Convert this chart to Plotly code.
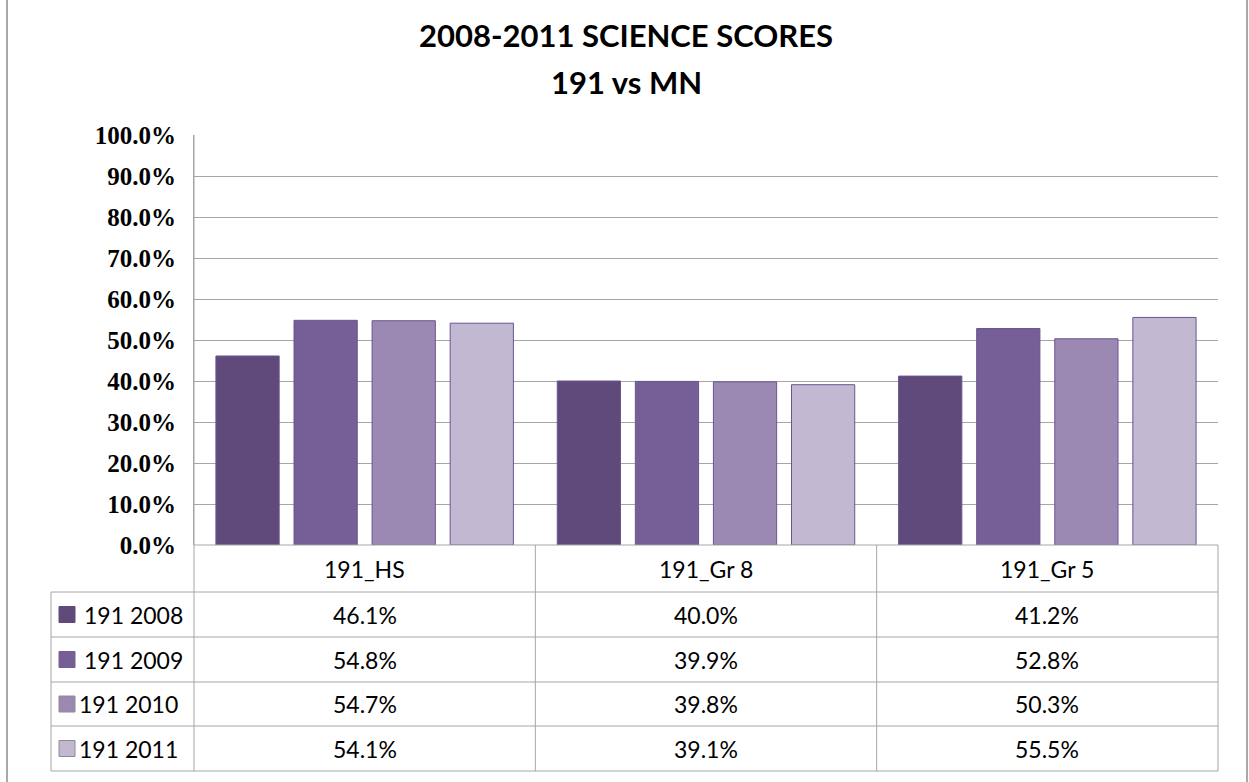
import plotly.graph_objects as go

categories = ["191_HS", "191_Gr 8", "191_Gr 5"]
series_names = ["191 2008", "191 2009", "191 2010", "191 2011"]
v2008 = [46.1, 40.0, 41.2]
v2009 = [54.8, 39.9, 52.8]
v2010 = [54.7, 39.8, 50.3]
v2011 = [54.1, 39.1, 55.5]
series_values = [v2008, v2009, v2010, v2011]
colors = ["#604A7B", "#765E96", "#9B89B3", "#C2B8D1"]
outline = "#6A5590"
grid = "#A6A6A6"

title_line1 = "2008-2011 SCIENCE SCORES"
title_line2 = "191 vs MN"

W, H = 1249, 782
ML, MR, MT, MB = 194, 31, 135, 237
PW = W - ML - MR
PH = H - MT - MB


def px(x):
    return (x - ML) / PW


def py(y):
    return (H - MB - y) / PH


fig = go.Figure()
for name, vals, col in zip(series_names, series_values, colors):
    fig.add_trace(go.Bar(
        x=categories, y=[v / 100 for v in vals], name=name,
        marker=dict(color=col, line=dict(color=outline, width=1)),
        showlegend=False, hoverinfo="skip",
    ))

shapes = []
annotations = []

# outer frame (vertical borders)
for xp in (7, 1247):
    shapes.append(dict(type="line", xref="paper", yref="paper",
                       x0=px(xp), x1=px(xp), y0=py(-2), y1=py(H + 2),
                       line=dict(color="#8C8C8C", width=1.5)))

# table horizontal lines
row_lines = [592, 637, 682, 726, 771]
shapes.append(dict(type="line", xref="paper", yref="paper",
                   x0=0, x1=1, y0=0, y1=0, line=dict(color=grid, width=1)))
for yl in row_lines:
    shapes.append(dict(type="line", xref="paper", yref="paper",
                       x0=px(51), x1=1, y0=py(yl), y1=py(yl),
                       line=dict(color=grid, width=1)))
# vertical lines
shapes.append(dict(type="line", xref="paper", yref="paper",
                   x0=0, x1=0, y0=1, y1=py(771), line=dict(color=grid, width=1)))
shapes.append(dict(type="line", xref="paper", yref="paper",
                   x0=1, x1=1, y0=0, y1=py(771), line=dict(color=grid, width=1)))
shapes.append(dict(type="line", xref="paper", yref="paper",
                   x0=px(51), x1=px(51), y0=py(592), y1=py(771), line=dict(color=grid, width=1)))
for xd in (0.5, 1.5):
    shapes.append(dict(type="line", xref="x", yref="paper",
                       x0=xd, x1=xd, y0=0, y1=py(771), line=dict(color=grid, width=1)))

cell_font = dict(family="Lato", size=23, color="#000000")

# header row
for i, c in enumerate(categories):
    annotations.append(dict(xref="x", yref="paper", x=i, y=py(568.5), text=c,
                            showarrow=False, font=cell_font, xanchor="center", yanchor="middle"))

row_centers = [614.5, 659.5, 704, 748.5]
for r, (name, vals, col) in enumerate(zip(series_names, series_values, colors)):
    yc = row_centers[r]
    # swatch
    shapes.append(dict(type="rect", xref="paper", yref="paper",
                       x0=px(59), x1=px(75), y0=py(yc - 8), y1=py(yc + 8),
                       fillcolor=col, line=dict(color="#8C8C8C" if r >= 2 else col, width=1)))
    tx = 82 if r < 2 else 77
    annotations.append(dict(xref="paper", yref="paper", x=px(tx), y=py(yc), text=name,
                            showarrow=False, font=cell_font, xanchor="left", yanchor="middle"))
    for i, v in enumerate(vals):
        annotations.append(dict(xref="x", yref="paper", x=i, y=py(yc), text=f"{v:.1f}%",
                                showarrow=False, font=cell_font, xanchor="center", yanchor="middle"))

title_font = dict(family="Lato", size=31, color="#000000")
annotations.append(dict(xref="paper", yref="paper", x=px(626), y=py(35), text=f"<b>{title_line1}</b>",
                        showarrow=False, font=title_font, xanchor="center", yanchor="middle"))
annotations.append(dict(xref="paper", yref="paper", x=px(626), y=py(82), text=f"<b>{title_line2}</b>",
                        showarrow=False, font=title_font, xanchor="center", yanchor="middle"))

fig.update_layout(
    width=W, height=H,
    margin=dict(l=ML, r=MR, t=MT, b=MB, pad=0),
    paper_bgcolor="white", plot_bgcolor="white",
    barmode="group", bargap=0.085, bargroupgap=0.19,
    shapes=shapes, annotations=annotations,
    xaxis=dict(range=[-0.5, 2.5], showticklabels=False, showgrid=False, zeroline=False,
               showline=False, fixedrange=True),
    yaxis=dict(range=[0, 1], dtick=0.1, tickformat=".1%", showgrid=True, gridcolor=grid,
               gridwidth=1, zeroline=False, showline=True, linecolor=grid, linewidth=1,
               ticks="outside", ticklen=12, tickcolor="rgba(0,0,0,0)",
               tickfont=dict(family="Liberation Serif", size=25, color="#000000", weight="bold"),
               fixedrange=True),
)

fig.write_html(
    "out.html",
    config={"displayModeBar": False},
    post_script="document.body.style.margin='0px';document.body.style.overflow='hidden';",
)
